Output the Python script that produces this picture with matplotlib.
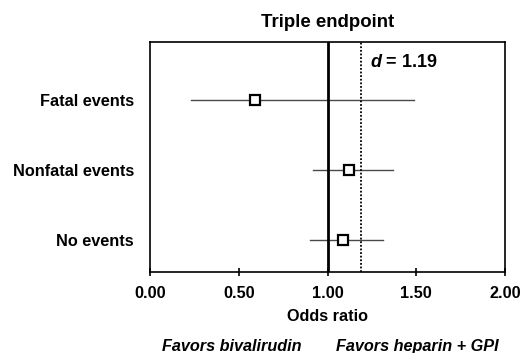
import matplotlib
matplotlib.use("Agg")
import matplotlib.pyplot as plt

# data
categories = ["Fatal events", "Nonfatal events", "No events"]
odds_ratio = [0.59, 1.12, 1.09]
ci_low = [0.23, 0.92, 0.90]
ci_high = [1.49, 1.37, 1.31]
d_value = 1.19
xticks = [0.0, 0.5, 1.0, 1.5, 2.0]

plt.rcParams["font.family"] = ["Liberation Sans", "DejaVu Sans"]
plt.rcParams["font.weight"] = "bold"
plt.rcParams["mathtext.fontset"] = "custom"
plt.rcParams["mathtext.bfit"] = "Liberation Sans:italic:bold"

FS = 11.7

fig = plt.figure(figsize=(5.23, 3.53), dpi=100)
ax = fig.add_axes([150 / 523, 1 - 272 / 353, 355 / 523, 230 / 353])

ypos = [3, 2, 1]
for y, m, lo, hi in zip(ypos, odds_ratio, ci_low, ci_high):
    ax.plot([lo, hi], [y, y], color="#4a4a4a", lw=1.0, zorder=2)
    ax.plot(m, y, marker="s", ms=7.5, mfc="white", mec="black", mew=1.6, zorder=4)

ax.axvline(1.0, color="black", lw=2.0, zorder=3)
ax.axvline(d_value, color="black", lw=1.3, ls=(0, (1, 1)), zorder=3)
ax.text(d_value + 0.05, 3.53, "$\\mathbfit{d}$ = %.2f" % d_value, fontsize=13,
        fontweight="bold", va="center", ha="left")

ax.set_xlim(0, 2)
ax.set_ylim(0.54, 3.83)
ax.set_xticks(xticks)
ax.set_xticklabels(["%.2f" % t for t in xticks], fontsize=FS, fontweight="bold")
ax.set_yticks(ypos)
ax.set_yticklabels(categories, fontsize=FS, fontweight="bold")
ax.tick_params(axis="y", length=0, pad=11.5)
ax.tick_params(axis="x", direction="inout", length=6, width=1.2, pad=7)
for s in ax.spines.values():
    s.set_linewidth(1.2)

ax.set_title("Triple endpoint", fontsize=13.4, fontweight="bold", pad=11)
ax.set_xlabel("Odds ratio", fontsize=FS, fontweight="bold", labelpad=6)

fig.text(232 / 523, 1 - 351 / 353, "Favors bivalirudin", fontsize=FS,
         fontweight="bold", style="italic", ha="center", va="baseline")
fig.text(417 / 523, 1 - 351 / 353, "Favors heparin + GPI", fontsize=FS,
         fontweight="bold", style="italic", ha="center", va="baseline")

fig.savefig("out.png", dpi=100)
